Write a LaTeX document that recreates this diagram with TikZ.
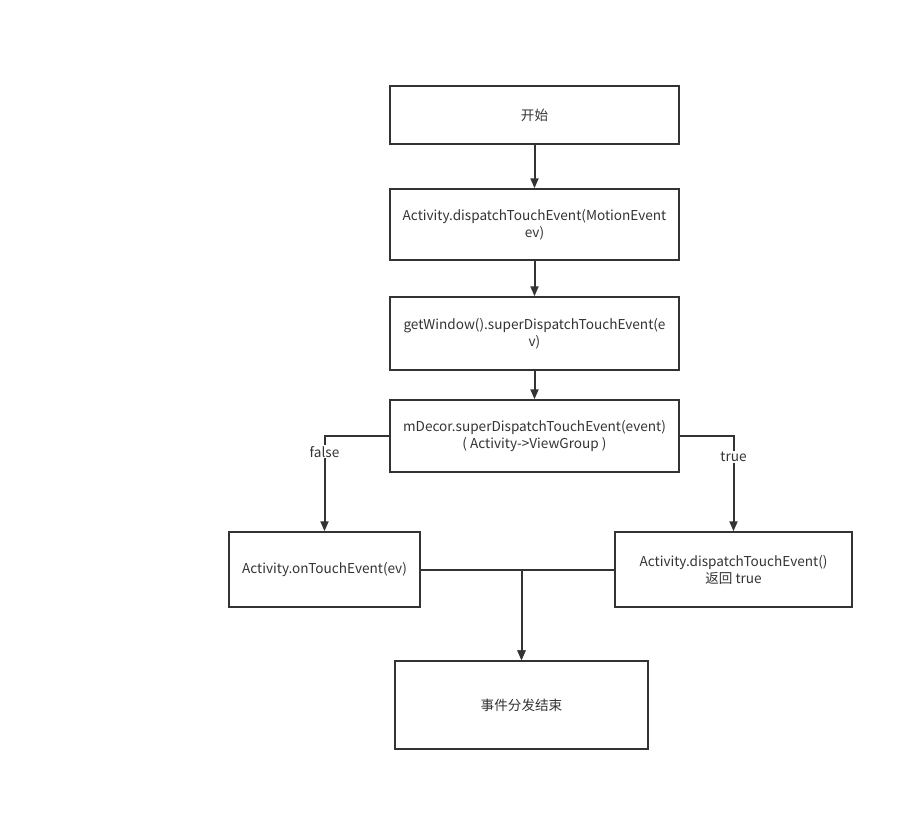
\documentclass[tikz,border=0pt]{standalone}
\usepackage{fontspec}
\setmainfont{Noto Sans CJK SC}
\usepackage{xcolor}
\usetikzlibrary{arrows.meta, calc}
\definecolor{inkgray}{HTML}{333333}

\begin{document}
\begin{tikzpicture}[x=1pt, y={(0pt,-1pt)}, >={Triangle[length=10pt, width=8pt]},
    every node/.style={font=\fontsize{13.6}{17}\selectfont, text=inkgray},
    flowbox/.style={draw=inkgray, line width=1.5pt, align=center, inner sep=0pt},
    flowline/.style={draw=inkgray, line width=2pt}]
  \useasboundingbox (0,0) rectangle (913,812);
  \node[flowbox, minimum width=289pt, minimum height=58pt] (start) at (534.5,115) {开始};
  \node[flowbox, minimum width=289pt, minimum height=71pt] (activity) at (534.5,224.5) {Activity.dispatchTouchEvent(MotionEvent\\ev)};
  \node[flowbox, minimum width=289pt, minimum height=73pt] (window) at (534.5,333.5) {getWindow().superDispatchTouchEvent(e\\v)};
  \node[flowbox, minimum width=289pt, minimum height=72pt] (decor) at (534.5,436) {mDecor.superDispatchTouchEvent(event)\\(\ Activity->ViewGroup\ )};
  \node[flowbox, minimum width=191pt, minimum height=75pt] (ontouch) at (324.5,569.5) {Activity.onTouchEvent(ev)};
  \node[flowbox, minimum width=237pt, minimum height=75pt] (returntrue) at (733.5,569.5) {Activity.dispatchTouchEvent()\\返回 true};
  \node[flowbox, minimum width=253pt, minimum height=88pt] (finish) at (521.5,705) {事件分发结束};
  \draw[flowline, ->] (start) -- (activity);
  \draw[flowline, ->] (activity) -- (window);
  \draw[flowline, ->] (window) -- (decor);
  \draw[flowline, ->] (decor.west) -| (ontouch.north) node[pos=0.583, fill=white, inner sep=1pt] {false};
  \draw[flowline, ->] (decor.east) -| (returntrue.north) node[pos=0.61, fill=white, inner sep=1pt] {true};
  \draw[flowline, ->] (ontouch.east) -| (finish.north);
  \draw[flowline, ->] (returntrue.west) -| (finish.north);
\end{tikzpicture}
\end{document}
